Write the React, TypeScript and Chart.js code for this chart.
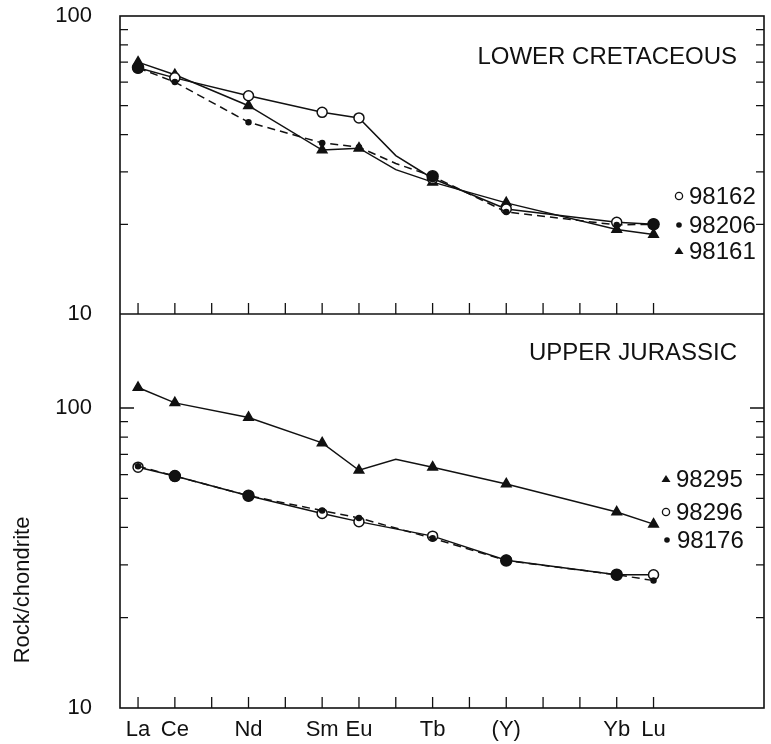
import React, { useEffect, useRef } from 'react';
import { Chart, registerables } from 'chart.js';

Chart.register(...registerables);

// REE positions (Y plotted in the Ho position)
const elements = ['La', 'Ce', 'Pr', 'Nd', 'Pm', 'Sm', 'Eu', 'Gd', 'Tb', 'Dy', '(Y)', 'Er', 'Tm', 'Yb', 'Lu'];
const shownLabels = ['La', 'Ce', 'Nd', 'Sm', 'Eu', 'Tb', '(Y)', 'Yb', 'Lu'];
const yTickLabels = [10, 100];
const minorTicks = [20, 30, 40, 50, 60, 70, 80, 90];

// LOWER CRETACEOUS
const s98162 = [67, 62, null, 54, null, 47.5, 45.5, 34, 28.5, null, 22.5, null, null, 20.3, 20];
const s98206 = [67, 60, null, 44, null, 37.5, 36.3, 32, 29, null, 22, null, null, 19.9, 20];
const s98161 = [70, 63.5, null, 50, null, 35.5, 36, 30.5, 27.7, null, 23.6, null, null, 19.2, 18.5];

// UPPER JURASSIC
const s98295 = [117, 104, null, 93, null, 76.5, 62, 67.5, 63.5, null, 55.8, null, null, 45, 41];
const s98296 = [63.5, 59.3, null, 51, null, 44.5, 41.8, null, 37.4, null, 31.1, null, null, 27.8, 27.8];
const s98176 = [64, 59.3, null, 51, null, 45.5, 43, null, 36.8, null, 31, null, null, 27.8, 26.6];

const FONT = "'Liberation Sans', Arial, Helvetica, sans-serif";
const INK = '#111';

const toPoints = (arr: (number | null)[]) =>
  arr.map((v, i) => (v == null ? null : { x: i, y: v })).filter(Boolean) as { x: number; y: number }[];

const radiusFor = (big: string[], small: number, large: number) => (ctx: any) => {
  const lab = elements[ctx.raw?.x];
  if (lab === 'Gd') return 0;
  return big.includes(lab) ? large : small;
};

const framePlugin = {
  id: 'frame',
  afterDatasetsDraw(chart: any) {
    const { ctx, chartArea, scales } = chart;
    const xs = scales.x;
    const yT = scales.yTop;
    const yB = scales.yBot;
    ctx.save();
    ctx.strokeStyle = INK;
    ctx.lineWidth = 1.6;
    ctx.strokeRect(chartArea.left, chartArea.top, chartArea.right - chartArea.left, chartArea.bottom - chartArea.top);
    const sep = yT.bottom;
    ctx.beginPath();
    ctx.moveTo(chartArea.left, sep);
    ctx.lineTo(chartArea.right, sep);
    ctx.stroke();
    ctx.lineWidth = 1.3;
    [yT, yB].forEach((s: any) => {
      const vals = [...minorTicks, 100];
      vals.forEach((v) => {
        if (v <= s.min || v >= s.max) return;
        const y = s.getPixelForValue(v);
        const len = v === 100 ? 14 : 8;
        ctx.beginPath();
        ctx.moveTo(chartArea.left, y);
        ctx.lineTo(chartArea.left + len, y);
        ctx.moveTo(chartArea.right, y);
        ctx.lineTo(chartArea.right - len, y);
        ctx.stroke();
      });
    });
    elements.forEach((_, i) => {
      const x = xs.getPixelForValue(i);
      [yT.bottom, yB.bottom].forEach((yb: number) => {
        ctx.beginPath();
        ctx.moveTo(x, yb);
        ctx.lineTo(x, yb - 11);
        ctx.stroke();
      });
    });
    ctx.fillStyle = INK;
    ctx.font = `24px ${FONT}`;
    ctx.textAlign = 'right';
    ctx.textBaseline = 'middle';
    ctx.fillText('LOWER CRETACEOUS', 737, 57);
    ctx.fillText('UPPER JURASSIC', 737, 353);
    const key = (kind: string, mx: number, y: number, text: string) => {
      ctx.lineWidth = 1.3;
      if (kind === 'open') {
        ctx.beginPath();
        ctx.arc(mx, y, 3.6, 0, Math.PI * 2);
        ctx.fillStyle = '#fff';
        ctx.fill();
        ctx.stroke();
      } else if (kind === 'dot') {
        ctx.beginPath();
        ctx.arc(mx, y, 2.8, 0, Math.PI * 2);
        ctx.fillStyle = INK;
        ctx.fill();
      } else {
        ctx.beginPath();
        ctx.moveTo(mx, y - 4);
        ctx.lineTo(mx + 4.5, y + 3);
        ctx.lineTo(mx - 4.5, y + 3);
        ctx.closePath();
        ctx.fillStyle = INK;
        ctx.fill();
      }
      ctx.fillStyle = INK;
      ctx.textAlign = 'left';
      ctx.textBaseline = 'middle';
      ctx.font = `24px ${FONT}`;
      ctx.fillText(text, mx + 10, y + 1);
    };
    key('open', 679, 196, '98162');
    key('dot', 679, 225, '98206');
    key('tri', 679, 251, '98161');
    key('tri', 666, 479, '98295');
    key('open', 666, 512, '98296');
    key('dot', 667, 540, '98176');
    ctx.save();
    ctx.translate(23, 590);
    ctx.rotate(-Math.PI / 2);
    ctx.textAlign = 'center';
    ctx.textBaseline = 'middle';
    ctx.font = `22px ${FONT}`;
    ctx.fillStyle = INK;
    ctx.fillText('Rock/chondrite', 0, 0);
    ctx.restore();
    ctx.restore();
  },
};

export default function App() {
  const ref = useRef<HTMLCanvasElement>(null);
  useEffect(() => {
    if (!ref.current) return;
    const line = (data: any, yAxisID: string, opts: any) => ({
      data: toPoints(data),
      yAxisID,
      borderColor: INK,
      borderWidth: 1.5,
      pointBorderColor: INK,
      pointBorderWidth: 1.5,
      pointHoverRadius: 0,
      tension: 0,
      fill: false,
      ...opts,
    });
    const yTickOpts = {
      autoSkip: false,
      padding: 20,
      color: INK,
      font: { family: FONT, size: 22 },
      callback: (v: any) => (yTickLabels.includes(Number(v)) ? String(v) : ''),
    };
    const yFit = (s: any) => {
      s.width = 120;
      s.paddingTop = 0;
      s.paddingBottom = 0;
    };
    const chart = new Chart(ref.current, {
      type: 'line',
      data: {
        datasets: [
          line(s98206, 'yTop', {
            label: '98206',
            borderDash: [8, 5],
            pointStyle: 'circle',
            pointBackgroundColor: INK,
            pointRadius: radiusFor(['La', 'Tb', 'Lu'], 2.5, 5.5),
            order: 0,
          }),
          line(s98162, 'yTop', {
            label: '98162',
            pointStyle: 'circle',
            pointBackgroundColor: '#fff',
            pointRadius: radiusFor(elements, 5, 5),
            order: 1,
          }),
          line(s98161, 'yTop', {
            label: '98161',
            pointStyle: 'triangle',
            pointBackgroundColor: INK,
            pointRadius: radiusFor(elements, 5.5, 5.5),
            order: 2,
          }),
          line(s98176, 'yBot', {
            label: '98176',
            borderDash: [8, 5],
            pointStyle: 'circle',
            pointBackgroundColor: INK,
            pointRadius: radiusFor(['Ce', 'Nd', '(Y)', 'Yb'], 2.5, 5.5),
            order: 0,
          }),
          line(s98296, 'yBot', {
            label: '98296',
            pointStyle: 'circle',
            pointBackgroundColor: '#fff',
            pointRadius: radiusFor(elements, 5, 5),
            order: 1,
          }),
          line(s98295, 'yBot', {
            label: '98295',
            pointStyle: 'triangle',
            pointBackgroundColor: INK,
            pointRadius: radiusFor(elements, 5.5, 5.5),
            order: 2,
          }),
        ],
      },
      options: {
        responsive: false,
        animation: false,
        devicePixelRatio: 1,
        layout: { padding: { left: 0, top: 16, right: 5, bottom: 0 } },
        plugins: { legend: { display: false }, tooltip: { enabled: false }, title: { display: false } },
        scales: {
          x: {
            type: 'linear',
            position: 'bottom',
            min: -0.49,
            max: 17.0,
            grid: { display: false },
            border: { display: false },
            afterBuildTicks: (s: any) => {
              s.ticks = elements.map((_, i) => ({ value: i }));
            },
            afterFit: (s: any) => {
              s.height = 36;
              s.paddingLeft = 0;
              s.paddingRight = 0;
            },
            ticks: {
              autoSkip: false,
              maxRotation: 0,
              padding: 1,
              color: INK,
              font: { family: FONT, size: 22 },
              callback: (v: any) => {
                const lab = elements[v as number];
                return shownLabels.includes(lab) ? lab : '';
              },
            },
          },
          yBot: {
            type: 'logarithmic',
            position: 'left',
            stack: 'panels',
            stackWeight: 394,
            min: 10,
            max: 205.7,
            grid: { display: false },
            border: { display: false },
            afterFit: yFit,
            ticks: yTickOpts,
          },
          yTop: {
            type: 'logarithmic',
            position: 'left',
            stack: 'panels',
            stackWeight: 298,
            min: 10,
            max: 100,
            grid: { display: false },
            border: { display: false },
            afterFit: yFit,
            ticks: yTickOpts,
          },
        },
      } as any,
      plugins: [framePlugin],
    });
    return () => chart.destroy();
  }, []);
  return (
    <div style={{ position: 'absolute', left: 0, top: 0, width: 771, height: 744, background: '#fff' }}>
      <canvas ref={ref} width={771} height={744} style={{ width: 771, height: 744, display: 'block' }} />
    </div>
  );
}
